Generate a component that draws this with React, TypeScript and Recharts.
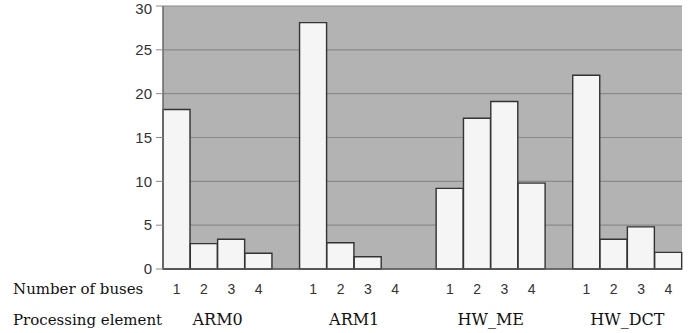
import React from 'react';
import { BarChart, Bar, XAxis, YAxis, CartesianGrid } from 'recharts';

const groups = ['ARM0', 'ARM1', 'HW_ME', 'HW_DCT'];
const buses = ['1', '2', '3', '4'];
const arm0 = [18.2, 2.9, 3.4, 1.8];
const arm1 = [28.1, 3.0, 1.4, 0];
const hwMe = [9.2, 17.2, 19.1, 9.8];
const hwDct = [22.1, 3.4, 4.8, 1.9];
const yTicks = [0, 5, 10, 15, 20, 25, 30];

const seriesByGroup = [arm0, arm1, hwMe, hwDct];

// one slot per bar, plus an empty slot between groups
const data: any[] = [];
groups.forEach((g, gi) => {
    buses.forEach((b, bi) => {
        data.push({ key: `${g}-${b}`, bus: b, pe: g, pos: bi, value: seriesByGroup[gi][bi] });
    });
    if (gi < groups.length - 1) {
        data.push({ key: `gap${gi}`, bus: '', pe: '', pos: -1, value: null });
    }
});

// DejaVu Serif is the only serif face that resolves here
const serif = "'DejaVu Serif', serif";
const sans = 'Liberation Sans, Arial, sans-serif';

const BottomTick = (props: any) => {
    const { x, y, payload, index } = props;
    const row = data[index];
    if (!row) return null;
    const half = payload && payload.offset ? payload.offset : 13.66;
    return (
        <g>
            {index === 0 && (
                <>
                    <text x={13} y={y + 25} fontFamily={serif} fontSize={15} fill="#111">
                        Number of buses
                    </text>
                    <text x={13} y={y + 56} fontFamily={serif} fontSize={15} fill="#111">
                        Processing element
                    </text>
                </>
            )}
            {row.bus && (
                <text x={x} y={y + 25} textAnchor="middle" fontFamily={sans} fontSize={14} fill="#333">
                    {row.bus}
                </text>
            )}
            {row.pos === 1 && (
                <text x={x + half} y={y + 56} textAnchor="middle" fontFamily={serif} fontSize={16} fill="#111">
                    {row.pe}
                </text>
            )}
        </g>
    );
};

export default function App() {
    return (
        <div style={{ position: 'absolute', left: 0, top: 0, background: '#fff' }}>
            <BarChart
                width={692}
                height={333}
                data={data}
                margin={{ top: 6, right: 10, bottom: 0, left: 103 }}
                barCategoryGap={0}
                barGap={0}
            >
                <CartesianGrid
                    vertical={false}
                    fill="#b3b3b3"
                    fillOpacity={1}
                    stroke="#8a8a8a"
                    strokeWidth={1.2}
                />
                <XAxis
                    dataKey="key"
                    interval={0}
                    tickLine={false}
                    tickSize={0}
                    tickMargin={0}
                    height={64}
                    axisLine={{ stroke: '#555', strokeWidth: 1.5 }}
                    tick={<BottomTick />}
                />
                <YAxis
                    domain={[0, 30]}
                    ticks={yTicks}
                    width={60}
                    tickSize={7}
                    tickMargin={4}
                    tickLine={{ stroke: '#8a8a8a' }}
                    axisLine={{ stroke: '#666', strokeWidth: 1.5 }}
                    tick={{ fill: '#333', fontSize: 15, fontFamily: sans }}
                />
                <YAxis
                    yAxisId="r"
                    orientation="right"
                    domain={[0, 30]}
                    width={0}
                    tick={false}
                    tickLine={false}
                    axisLine={{ stroke: '#9a9a9a', strokeWidth: 1.5 }}
                />
                <Bar
                    dataKey="value"
                    fill="#f5f5f5"
                    stroke="#333"
                    strokeWidth={1.4}
                    isAnimationActive={false}
                />
            </BarChart>
        </div>
    );
}
